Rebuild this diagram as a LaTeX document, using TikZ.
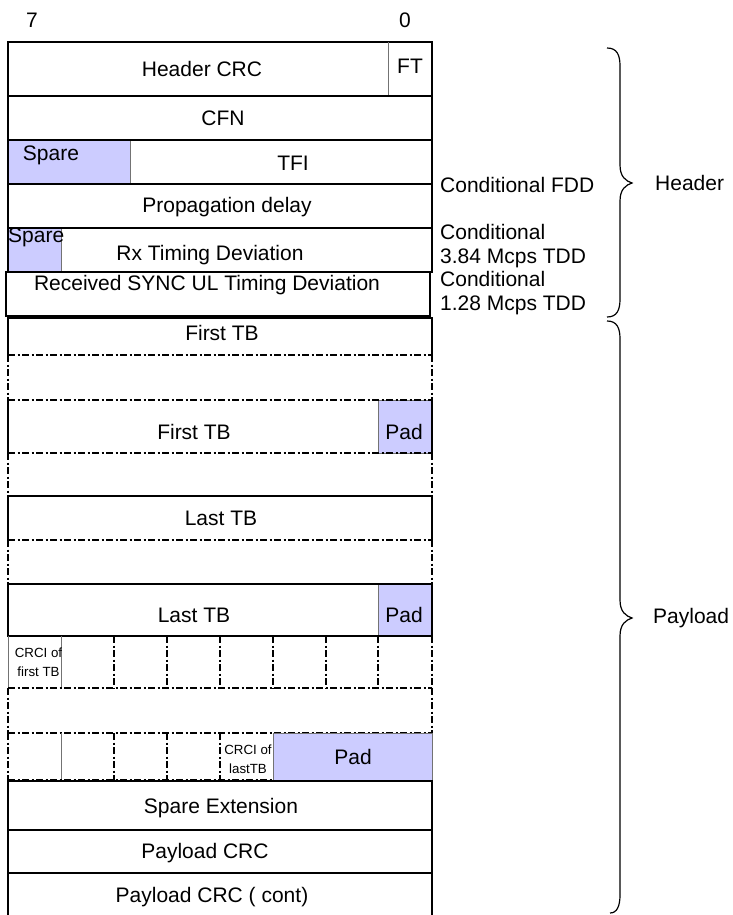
\documentclass[tikz,border=0pt]{standalone}
\usepackage{fontspec}
\setmainfont{Liberation Sans}
\begin{document}
\begin{tikzpicture}[x=1pt,y=-1pt,
  txt/.style={inner sep=0pt,font=\fontsize{21}{24}\selectfont},
  small/.style={inner sep=0pt,align=center,font=\fontsize{13.3}{19}\selectfont},
  solidline/.style={draw=black,line width=1.2pt},
  thinline/.style={draw=black!55,line width=0.9pt},
  dd/.style={draw=black,line width=1.2pt,dash pattern=on 7pt off 2.5pt on 2pt off 2.5pt},
  padfill/.style={fill=blue!20,draw=black!55,line width=0.9pt},
  brace/.style={draw=black,line width=1.2pt}]
\useasboundingbox (0,0) rectangle (732,915);

% bit labels
\node[txt] (b7) at (32,20) {7};
\node[txt] (b0) at (405,20) {0};

% header rows
\draw[solidline] (8,42) rectangle (432,96);
\draw[thinline] (388,42) -- (388,96);
\draw[solidline] (8,96) rectangle (432,140);
\draw[padfill] (8,140) rectangle (130,184);
\draw[solidline] (8,140) rectangle (432,184);
\draw[solidline] (8,184) rectangle (432,228);
\draw[padfill] (8,228) rectangle (61,272);
\draw[solidline] (8,228) rectangle (432,272);
\draw[solidline] (6,272) rectangle (430,316);

\node[txt] (hcrc) at (202,69) {Header CRC};
\node[txt] (ft) at (410,66) {FT};
\node[txt] (cfn) at (223,118) {CFN};
\node[txt] (sp1) at (51,155) {Spare};
\node[txt] (tfi) at (293,163) {TFI};
\node[txt] (prop) at (227,207) {Propagation delay};
\node[txt,anchor=west] (sp2) at (8,237) {Spare};
\node[txt] (rx) at (210,255) {Rx Timing Deviation};
\node[txt] (sync) at (207,285) {Received SYNC UL Timing Deviation};

% payload rows
\draw[solidline] (8,355) -- (8,318) -- (432,318) -- (432,355);
\draw[dd] (8,355) -- (432,355);
\draw[dd] (8,355) -- (8,400);
\draw[dd] (432,355) -- (432,400);
\node[txt] (ftb1) at (222,333) {First TB};

\draw[padfill] (378,400) rectangle (432,453);
\draw[solidline] (8,400) -- (8,453);
\draw[solidline] (432,400) -- (432,453);
\draw[dd] (8,400) -- (432,400);
\draw[dd] (8,453) -- (432,453);
\draw[dd] (8,453) -- (8,496);
\draw[dd] (432,453) -- (432,496);
\node[txt] (ftb2) at (194,432) {First TB};
\node[txt] (pad1) at (404,432) {Pad};

\draw[solidline] (8,540) -- (8,496) -- (432,496) -- (432,540);
\draw[dd] (8,540) -- (432,540);
\draw[dd] (8,540) -- (8,584);
\draw[dd] (432,540) -- (432,584);
\node[txt] (ltb1) at (221,518) {Last TB};

\draw[padfill] (378,584) rectangle (432,636);
\draw[solidline] (8,584) rectangle (432,636);
\node[txt] (ltb2) at (194,615) {Last TB};
\node[txt] (pad2) at (404,615) {Pad};

% CRCI row
\draw[thinline] (8,636) -- (8,688);
\draw[thinline] (61,636) -- (61,688);
\foreach \xx in {114,167,220,273,326,378,432} \draw[dd] (\xx,636) -- (\xx,688);
\draw[dd] (8,688) -- (432,688);
\node[small] (crci1) at (38.5,662) {CRCI of\\first TB};

\draw[dd] (8,688) -- (8,733);
\draw[dd] (432,688) -- (432,733);
\draw[dd] (8,733) -- (432,733);

% last CRCI row
\draw[padfill] (273,733) rectangle (432,780);
\draw[dd] (8,733) -- (8,780);
\draw[thinline] (61,733) -- (61,780);
\foreach \xx in {114,167,220} \draw[dd] (\xx,733) -- (\xx,780);
\draw[dd] (8,780) -- (273,780);
\node[small] (crci2) at (248,759) {CRCI of\\lastTB};
\node[txt] (pad3) at (353,757) {Pad};

% trailer rows
\draw[solidline] (8,781) rectangle (432,830);
\draw[solidline] (8,830) rectangle (432,873);
\draw[solidline] (8,915) -- (8,873) -- (432,873) -- (432,915);
\node[txt] (spext) at (221,808) {Spare Extension};
\node[txt] (pcrc) at (205,853) {Payload CRC};
\node[txt] (pcrc2) at (212,897) {Payload CRC ( cont)};

% conditions
\node[txt,anchor=west] (cfdd) at (440,185) {Conditional FDD};
\node[txt,anchor=west,align=left] (c384) at (440,246.5) {Conditional\\3.84 Mcps TDD};
\node[txt,anchor=west,align=left] (c128) at (440,293.5) {Conditional\\1.28 Mcps TDD};

% braces
\draw[brace] (607,48) .. controls (617,48) and (620,55) .. (620,66) -- (620,165)
  .. controls (620,177) and (626,181) .. (632,183)
  .. controls (626,185) and (620,189) .. (620,201) -- (620,299)
  .. controls (620,310) and (617,317) .. (607,317);
\draw[brace] (607,321) .. controls (617,321) and (620,328) .. (620,339) -- (620,600)
  .. controls (620,612) and (626,616) .. (632,618)
  .. controls (626,620) and (620,624) .. (620,636) -- (620,895)
  .. controls (620,906) and (617,913) .. (610,913);
\node[txt,anchor=west] (hdr) at (655,183) {Header};
\node[txt,anchor=west] (pay) at (653,618) {Payload};
\end{tikzpicture}
\end{document}
